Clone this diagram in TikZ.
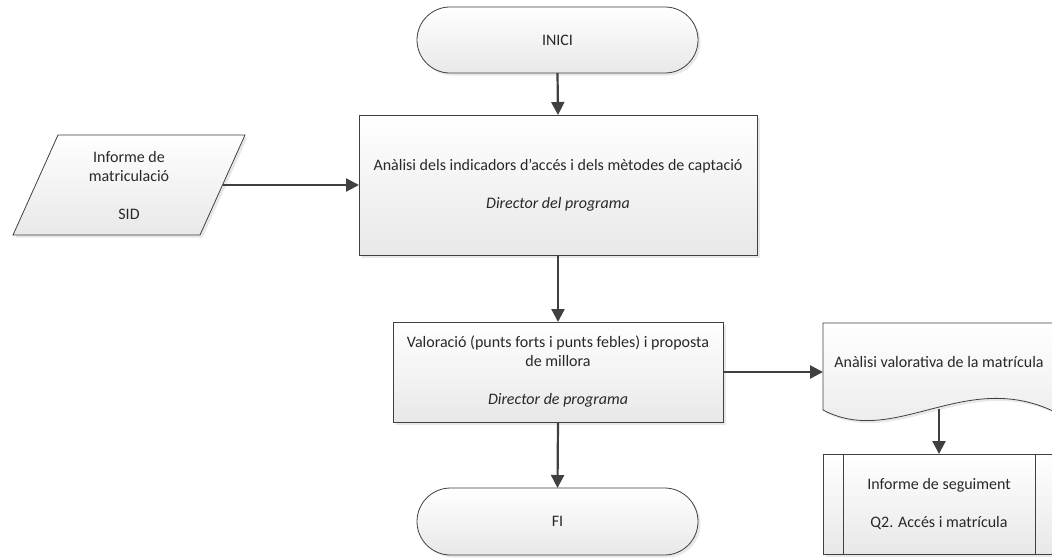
\documentclass[tikz,border=0pt]{standalone}
\usepackage{fontspec}
\setmainfont{Carlito}
\usetikzlibrary{arrows.meta,shapes.misc,shadows}
\definecolor{edge}{RGB}{64,64,64}
\definecolor{lo}{RGB}{232,232,232}
\definecolor{txt}{RGB}{40,40,40}
\begin{document}
\begin{tikzpicture}[x=1pt,y=-1pt,font=\fontsize{16}{19}\selectfont,text=txt,
  shp/.style={draw=edge,line width=0.8pt,top color=white,bottom color=lo,
    drop shadow={shadow xshift=2.5pt,shadow yshift=-2.5pt,fill=black!18}},
  box/.style={shp,inner sep=0pt,outer sep=0pt,align=center},
  term/.style={box,rounded rectangle},
  arr/.style={draw=edge,line width=2.2pt,-{Triangle[length=13pt,width=13pt]}}]
\useasboundingbox (0,0) rectangle (1052,557);
% start
\node[term,minimum width=281,minimum height=66] (inici) at (557.5,40) {INICI};
% main analysis
\node[box,minimum width=398,minimum height=140] (anal) at (558,185)
  {Anàlisi dels indicadors d’accés i dels mètodes de captació\\\mbox{}\\\textit{Director del programa}};
% input data
\path[shp] (58,135) -- (245,135) -- (200,235) -- (13,235) -- cycle;
\node[align=center,inner sep=0pt] (inf) at (129,185) {Informe de\\matriculació\\\mbox{}\\SID};
\coordinate (infR) at (222.5,185);
% evaluation
\node[box,minimum width=330,minimum height=100] (val) at (558,372)
  {Valoració (punts forts i punts febles) i proposta\\de millora\\\mbox{}\\\textit{Director de programa}};
% end
\node[term,minimum width=281,minimum height=67] (fi) at (557.5,521.5) {FI};
% document
\path[shp] (823,323) -- (1055,323) -- (1055,412) .. controls (965,368) and (895,448) .. (823,410) -- cycle;
\node[inner sep=0pt] (doc) at (939,362) {Anàlisi valorativa de la matrícula};
\coordinate (docW) at (823,372);
\coordinate (docS) at (939,409);
% predefined process
\node[box,minimum width=232,minimum height=100] (proc) at (939,504)
  {Informe de seguiment\\\mbox{}\\Q2. Accés i matrícula};
\draw[draw=edge,line width=0.8pt] ([xshift=20pt]proc.north west) -- ([xshift=20pt]proc.south west);
\draw[draw=edge,line width=0.8pt] ([xshift=-20pt]proc.north east) -- ([xshift=-20pt]proc.south east);
% connectors
\draw[arr] (inici.south) -- (anal.north);
\draw[arr] (infR) -- (anal.west);
\draw[arr] (anal.south) -- (val.north);
\draw[arr] (val.south) -- (fi.north);
\draw[arr] (val.east) -- (docW);
\draw[arr] (docS) -- (proc.north);
\end{tikzpicture}
\end{document}
